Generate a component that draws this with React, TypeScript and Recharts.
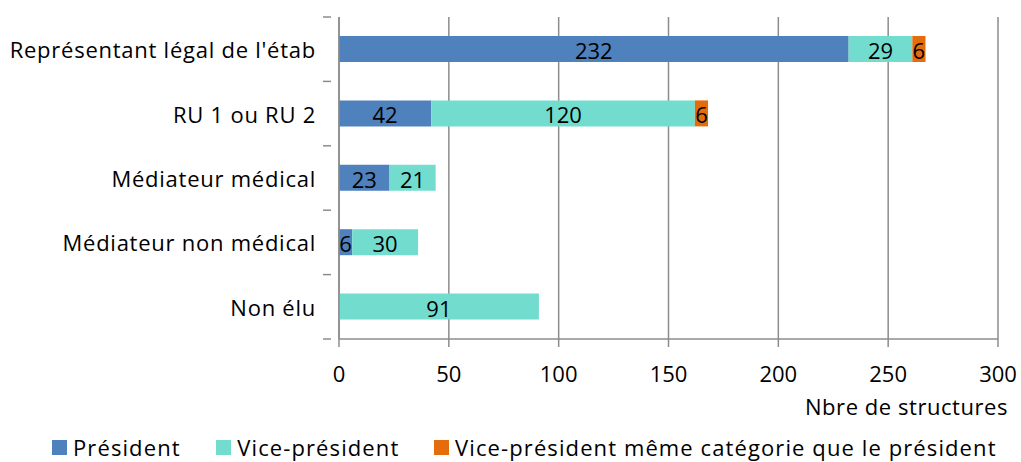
import React from "react";
import { BarChart, Bar, XAxis, YAxis, CartesianGrid, Legend, LabelList, Label } from "recharts";

const categories = [
  "Représentant légal de l'étab",
  "RU 1 ou RU 2",
  "Médiateur médical",
  "Médiateur non médical",
  "Non élu",
];
const president = [232, 42, 23, 6, 0];
const vicePresident = [29, 120, 21, 30, 91];
const vpSameCategory = [6, 6, 0, 0, 0];
const xTicks = [0, 50, 100, 150, 200, 250, 300];

const SERIES = [
  { key: "president", name: "Président", color: "#4F81BD" },
  { key: "vice", name: "Vice-président", color: "#72DCCF" },
  { key: "same", name: "Vice-président même catégorie que le président", color: "#E46C0A" },
];

const data = categories.map((c, i) => ({
  category: c,
  president: president[i],
  vice: vicePresident[i],
  same: vpSameCategory[i],
}));

const FONT = "'Open Sans', Calibri, sans-serif";
const FS = 22;
const LS = 0.75;
const W = 1021;
const H = 462;
const MARGIN = { top: 17, right: 23, left: 0, bottom: 0 };
const Y_AXIS_W = 339;
const X_AXIS_H = 90;
const LEGEND_H = 33;
const PLOT_H = H - MARGIN.top - X_AXIS_H - LEGEND_H;
const BAND = PLOT_H / categories.length;
const AXIS_GRAY = "#8C8C8C";
// legend item slot widths (square + text + gap)
const LEGEND_SLOTS = [169, 224, 580];

// Category tick: label at the band centre, tick marks on band boundaries
const CategoryTick = (props: any) => {
  const { x, y, payload, index } = props;
  const top = y - BAND / 2;
  const bottom = y + BAND / 2;
  return (
    <g>
      <line x1={x - 8} x2={x} y1={top} y2={top} stroke={AXIS_GRAY} strokeWidth={1.5} />
      {index === categories.length - 1 && (
        <line x1={x - 8} x2={x} y1={bottom} y2={bottom} stroke={AXIS_GRAY} strokeWidth={1.5} />
      )}
      <text x={x - 15} y={y} textAnchor="end" dominantBaseline="central" fontSize={FS} letterSpacing={LS} fontFamily={FONT} fill="#000">
        {payload.value}
      </text>
    </g>
  );
};

const ValueLabel = (props: any) => {
  const { x, y, width, height, value } = props;
  if (!value) return null;
  return (
    <text x={x + width / 2} y={y + height / 2 + 1} textAnchor="middle" dominantBaseline="central" fontSize={FS} fontFamily={FONT} fill="#000">
      {value}
    </text>
  );
};

const LegendContent = () => (
  <div style={{ display: "flex", paddingLeft: 52, paddingTop: 4, fontFamily: FONT, fontSize: FS, letterSpacing: 1.1, color: "#000", lineHeight: "28px", whiteSpace: "nowrap" }}>
    {SERIES.map((s, i) => (
      <div key={s.key} style={{ display: "flex", alignItems: "center", width: LEGEND_SLOTS[i] }}>
        <span style={{ display: "inline-block", width: 15, height: 15, background: s.color, marginRight: 6, flexShrink: 0 }} />
        <span>{s.name}</span>
      </div>
    ))}
  </div>
);

export default function App() {
  return (
    <div style={{ position: "fixed", left: 0, top: 0, width: W, height: H, background: "#fff" }}>
      <BarChart width={W} height={H} data={data} layout="vertical" margin={MARGIN} barSize={26}>
        <CartesianGrid horizontal={false} stroke={AXIS_GRAY} strokeWidth={1.5} />
        <XAxis
          type="number"
          domain={[0, 300]}
          ticks={xTicks}
          height={X_AXIS_H}
          stroke={AXIS_GRAY}
          strokeWidth={1.5}
          tickSize={8}
          tickMargin={19}
          tick={{ fontSize: FS, fontFamily: FONT, fill: "#000" }}
        >
          <Label
            content={(p: any) => {
              const vb = p.viewBox;
              return (
                <text x={vb.x + vb.width + 10} y={vb.y + 66.5} textAnchor="end" dominantBaseline="central" fontSize={FS} letterSpacing={0.55} fontFamily={FONT} fill="#000">
                  Nbre de structures
                </text>
              );
            }}
          />
        </XAxis>
        <YAxis
          type="category"
          dataKey="category"
          width={Y_AXIS_W}
          stroke={AXIS_GRAY}
          strokeWidth={1.5}
          tickLine={false}
          tick={<CategoryTick />}
          interval={0}
        />
        <Legend verticalAlign="bottom" height={LEGEND_H} content={<LegendContent />} />
        {SERIES.map((s) => (
          <Bar key={s.key} dataKey={s.key} name={s.name} stackId="a" fill={s.color} isAnimationActive={false}>
            <LabelList dataKey={s.key} content={<ValueLabel />} />
          </Bar>
        ))}
      </BarChart>
    </div>
  );
}
